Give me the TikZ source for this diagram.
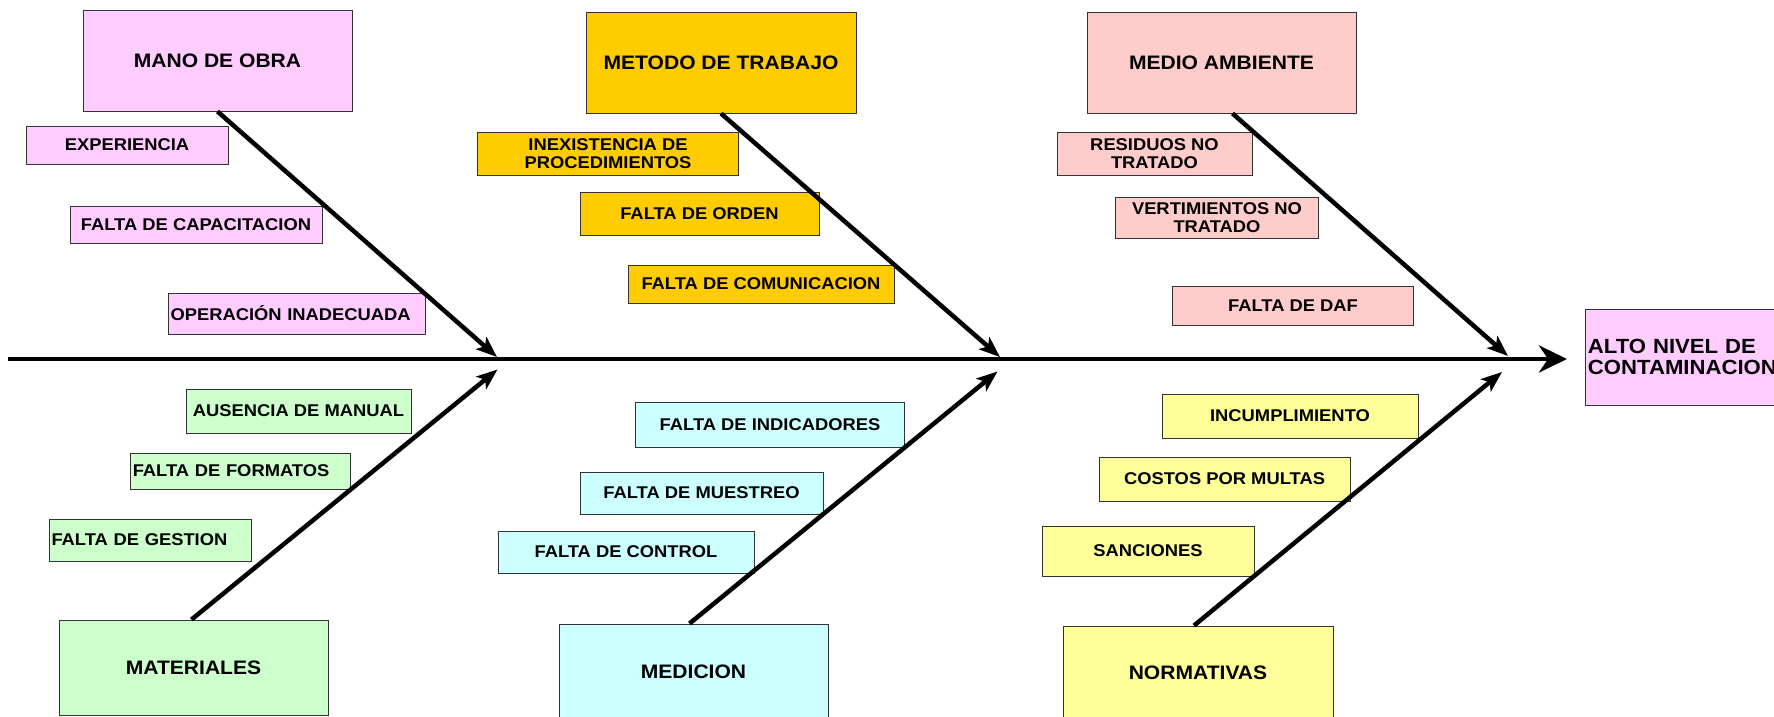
\documentclass[tikz,border=0pt]{standalone}
\usepackage{fontspec}
\setmainfont{Liberation Sans}[FakeStretch=1.08]
\usetikzlibrary{arrows.meta}
\definecolor{cpink}{HTML}{FFCCFF}
\definecolor{cgold}{HTML}{FFCC00}
\definecolor{crose}{HTML}{FFCCCC}
\definecolor{cgreen}{HTML}{CCFFCC}
\definecolor{ccyan}{HTML}{CCFFFF}
\definecolor{cyell}{HTML}{FFFF99}
\begin{document}
\begin{tikzpicture}[x=1pt,y=-1pt,
  box/.style={draw=black!80, line width=0.9pt, inner sep=2.5pt, align=center,
    font=\bfseries\fontsize{17}{18.5}\selectfont},
  cat/.style={box, font=\bfseries\fontsize{19.5}{22}\selectfont},
  bone/.style={line width=4.5pt, -{Stealth[length=21pt,width=16pt,inset=5pt]}},
  spine/.style={line width=4.5pt, -{Stealth[length=28pt,width=27pt,inset=9pt]}}]
\useasboundingbox (0,0) rectangle (1774,717);
\begin{scope}
\clip (0,0) rectangle (1774,717);
% main categories
\node[cat, fill=cpink, minimum width=269, minimum height=101] (mano) at (217.5,60.5) {MANO DE OBRA};
\node[cat, fill=cgold, minimum width=270, minimum height=101] (metodo) at (721,62.5) {METODO DE TRABAJO};
\node[cat, fill=crose, minimum width=269, minimum height=101] (medio) at (1221.5,62.5) {MEDIO AMBIENTE};
\node[cat, fill=cgreen, minimum width=269, minimum height=95] (materiales) at (193.5,667.5) {MATERIALES};
\node[cat, fill=ccyan, minimum width=269, minimum height=96] (medicion) at (693.5,672) {MEDICION};
\node[cat, fill=cyell, minimum width=270, minimum height=94] (normativas) at (1198,673) {NORMATIVAS};
\node[cat, fill=cpink, anchor=west, text width=220, inner sep=3pt, align=left, minimum height=96,
  font=\bfseries\fontsize{20.5}{21}\selectfont] (alto) at (1584.5,357) {ALTO NIVEL DE\\CONTAMINACION};
% causes
\node[box, fill=cpink, minimum width=202, minimum height=38] (experiencia) at (127,145) {EXPERIENCIA};
\node[box, fill=cpink, minimum width=252, minimum height=37] (capacitacion) at (196,224.5) {FALTA DE CAPACITACION};
\node[box, fill=cpink, minimum width=257, minimum height=41, text width=252, align=left] (operacion) at (296.5,313.5) {OPERACIÓN INADECUADA};
\node[box, fill=cgold, minimum width=261.5, minimum height=43] (inexistencia) at (608,153.5) {INEXISTENCIA DE\\PROCEDIMIENTOS};
\node[box, fill=cgold, minimum width=239, minimum height=43] (orden) at (699.5,213.5) {FALTA DE ORDEN};
\node[box, fill=cgold, minimum width=266, minimum height=38] (comunicacion) at (761,284) {FALTA DE COMUNICACION};
\node[box, fill=crose, minimum width=195, minimum height=43] (residuos) at (1154.5,153.5) {RESIDUOS NO\\TRATADO};
\node[box, fill=crose, minimum width=202.5, minimum height=41] (vertimientos) at (1217,217.5) {VERTIMIENTOS NO\\TRATADO};
\node[box, fill=crose, minimum width=240.5, minimum height=39] (daf) at (1293,305.5) {FALTA DE DAF};
\node[box, fill=cgreen, minimum width=225, minimum height=44] (ausencia) at (298.5,411) {AUSENCIA DE MANUAL};
\node[box, fill=cgreen, minimum width=220.5, minimum height=36, text width=215.5, align=left] (formatos) at (240.5,471) {FALTA DE FORMATOS};
\node[box, fill=cgreen, minimum width=202, minimum height=42, text width=197, align=left] (gestion) at (150,540) {FALTA DE GESTION};
\node[box, fill=ccyan, minimum width=269.5, minimum height=45] (indicadores) at (770,424.5) {FALTA DE INDICADORES};
\node[box, fill=ccyan, minimum width=243, minimum height=42] (muestreo) at (701.5,493) {FALTA DE MUESTREO};
\node[box, fill=ccyan, minimum width=256, minimum height=42] (control) at (626,552) {FALTA DE CONTROL};
\node[box, fill=cyell, minimum width=256, minimum height=44] (incumplimiento) at (1290,416) {INCUMPLIMIENTO};
\node[box, fill=cyell, minimum width=251, minimum height=44] (costos) at (1224.5,479) {COSTOS POR MULTAS};
\node[box, fill=cyell, minimum width=212, minimum height=50] (sanciones) at (1148,551) {SANCIONES};
% junction points on the spine
\coordinate (s0) at (8,359);
\coordinate (s1) at (1567,359);
\coordinate (j1) at (497,357);
\coordinate (j2) at (1000,357);
\coordinate (j3) at (1508,356);
\coordinate (k1) at (497.5,369.5);
\coordinate (k2) at (997.5,371.5);
\coordinate (k3) at (1502,372);
% spine and bones
\draw[spine] (s0) -- (s1);
\draw[bone] (mano.south) -- (j1);
\draw[bone] (metodo.south) -- (j2);
\draw[bone] ([xshift=11pt]medio.south) -- (j3);
\draw[bone] ([xshift=-2pt]materiales.north) -- (k1);
\draw[bone] ([xshift=-4pt]medicion.north) -- (k2);
\draw[bone] ([xshift=-4pt]normativas.north) -- (k3);
\end{scope}
\end{tikzpicture}
\end{document}
